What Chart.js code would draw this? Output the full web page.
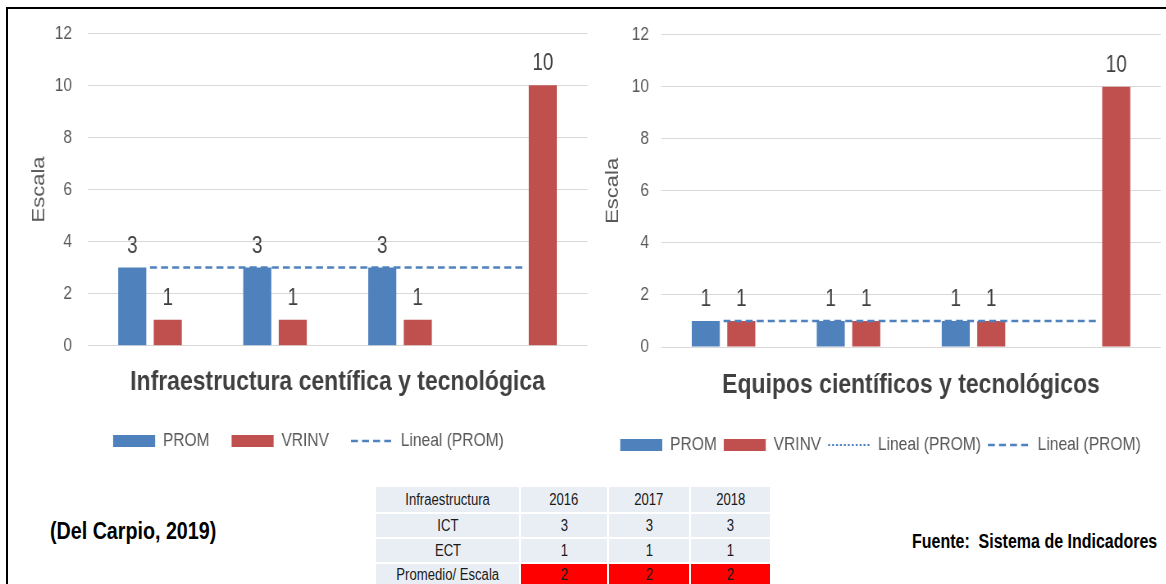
<!DOCTYPE html>
<html><head><meta charset="utf-8">
<script src="https://cdn.jsdelivr.net/npm/chart.js@4.4.0/dist/chart.umd.min.js"></script>
<style>
html,body{margin:0;padding:0;background:#fff;width:1166px;height:584px;overflow:hidden;}
body{position:relative;font-family:'Liberation Sans',Arial,sans-serif;}
#frame{position:absolute;left:6px;top:7px;width:1200px;height:600px;border-top:2px solid #000;border-left:2px solid #000;}
.wrap{position:absolute;top:0;height:470px;transform:scaleX(0.82);transform-origin:0 0;}
#w1{left:0;width:726px;}
#w2{left:595px;width:696px;}
#tbl{position:absolute;left:374px;top:485px;border-collapse:collapse;color:#1a1a1a;font-size:16px;}
#tbl td{background:#E9EDF4;border:2px solid #fff;text-align:center;padding:0;line-height:20px;white-space:nowrap;}
#tbl td.red{background:#FF0000;}
#tbl td span{display:inline-block;transform:scaleX(0.82);transform-origin:50% 50%;}
.narrow{position:absolute;white-space:nowrap;transform:scaleX(0.82);transform-origin:0 0;font-weight:bold;color:#000;}
#cite{left:50px;top:517px;font-size:24px;}
#src{left:912px;top:530px;font-size:19.5px;}
</style></head>
<body>
<div id="frame"></div>
<div id="w1" class="wrap"><canvas id="c1"></canvas></div>
<div id="w2" class="wrap"><canvas id="c2"></canvas></div>
<table id="tbl"></table>
<div id="cite" class="narrow">(Del Carpio, 2019)</div>
<div id="src" class="narrow">Fuente:&nbsp; Sistema de Indicadores</div>
<script>
// ---- data ----
const categories = ['2016', '2017', '2018', 'VRINV'];
const promInfra = [3, 3, 3, null];
const vrinvInfra = [1, 1, 1, 10];
const trendInfra = [3, 3, 3, 3];
const promEquip = [1, 1, 1, null];
const vrinvEquip = [1, 1, 1, 10];
const trendEquip = [1, 1, 1, 1];
const trendEquipDotted = [null, null, null, null];
const yMin = 0, yMax = 12, yStep = 2;
const tableHeader = ['Infraestructura', '2016', '2017', '2018'];
const tableRowNames = ['ICT', 'ECT', 'Promedio/ Escala'];
const tableICT = [3, 3, 3];
const tableECT = [1, 1, 1];
const tablePromedio = [2, 2, 2];

// ---- styles ----
const FONT = "'Liberation Sans',Arial,sans-serif";
const BLUE = '#4F81BD', RED = '#C0504D';

const valueLabels = {
  id: 'valueLabels',
  afterDatasetsDraw(chart) {
    const ctx = chart.ctx;
    ctx.save();
    ctx.font = '23px ' + FONT;
    ctx.fillStyle = '#404040';
    ctx.textAlign = 'center';
    ctx.textBaseline = 'alphabetic';
    chart.data.datasets.forEach((ds, i) => {
      if (ds.type !== 'bar') return;
      const meta = chart.getDatasetMeta(i);
      meta.data.forEach((el, j) => {
        const v = ds.data[j];
        if (v === null || v === undefined) return;
        ctx.fillText(String(v), el.x, el.y - 15);
      });
    });
    ctx.restore();
  }
};

function genLabels(chart) {
  const items = Chart.defaults.plugins.legend.labels.generateLabels(chart);
  items.forEach(it => {
    const ds = chart.data.datasets[it.datasetIndex];
    if (ds.type === 'line') {
      it.pointStyle = 'line'; it.lineWidth = ds.borderWidth; it.strokeStyle = ds.borderColor; it.lineDash = ds.borderDash;
    } else {
      it.pointStyle = 'rect'; it.lineWidth = 0; it.fillStyle = ds.backgroundColor;
    }
  });
  return items.sort((a, b) => a.datasetIndex - b.datasetIndex);
}

function makeChart(id, datasets, o) {
  const H = 470;
  const legendTop = H - o.padBottom - 29 - o.legendPad;
  const xHeight = legendTop - o.plotBottom;
  const titlePadBottom = legendTop - o.titleCenter - 16.8;
  return new Chart(document.getElementById(id), {
    type: 'bar',
    data: { labels: categories, datasets },
    plugins: [valueLabels],
    options: {
      responsive: true, maintainAspectRatio: false, animation: false, devicePixelRatio: 1,
      layout: { padding: { left: o.padLeft, right: o.padRight, top: o.padTop, bottom: o.padBottom } },
      scales: {
        x: {
          grid: { display: false }, border: { display: false },
          ticks: { display: false },
          title: { display: true, text: o.title, color: '#404040', font: { family: FONT, size: 28, weight: 'bold' }, padding: { top: 0, bottom: titlePadBottom } },
          afterFit(s) { s.height = xHeight; }
        },
        y: {
          min: yMin, max: yMax,
          grid: { color: '#D9D9D9', lineWidth: 1, drawTicks: false },
          border: { display: false },
          ticks: { stepSize: yStep, color: '#595959', padding: o.tickPad, font: { family: FONT, size: 19 } },
          title: { display: true, text: 'Escala', color: '#595959', font: { family: FONT, size: 22 }, padding: { top: o.yTitlePad, bottom: 0 } },
          afterFit(s) { s.width = o.yWidth; }
        }
      },
      plugins: {
        tooltip: { enabled: false },
        legend: {
          position: 'bottom', align: 'center',
          labels: { usePointStyle: true, pointStyleWidth: 51.2, boxHeight: 12, padding: o.legendPad, color: '#595959', font: { family: FONT, size: 19 }, generateLabels: genLabels }
        }
      }
    }
  });
}

const barCommon = { barPercentage: 0.79, categoryPercentage: 0.568, borderWidth: 0 };

makeChart('c1', [
  Object.assign({ type: 'bar', label: 'PROM', data: promInfra, backgroundColor: BLUE, order: 1 }, barCommon),
  Object.assign({ type: 'bar', label: 'VRINV', data: vrinvInfra, backgroundColor: RED, order: 1 }, barCommon),
  { type: 'line', label: 'Lineal (PROM)', data: trendInfra, borderColor: BLUE, backgroundColor: BLUE, borderWidth: 2.5, borderDash: [8.5, 5], pointRadius: 0, fill: false, order: 0 }
], { padLeft: 35.8, padRight: 9.5, padTop: 33.3, padBottom: 9.5, yWidth: 70.9, tickPad: 18.9, yTitlePad: -1.4, plotBottom: 345.7, titleCenter: 382, legendPad: 26.8, title: 'Infraestructura centífica y tecnológica' });

makeChart('c2', [
  Object.assign({ type: 'bar', label: 'PROM', data: promEquip, backgroundColor: BLUE, order: 1 }, barCommon),
  Object.assign({ type: 'bar', label: 'VRINV', data: vrinvEquip, backgroundColor: RED, order: 1 }, barCommon),
  { type: 'line', label: 'Lineal (PROM)', data: trendEquipDotted, borderColor: BLUE, backgroundColor: BLUE, borderWidth: 2, borderDash: [2.4, 2.4], pointRadius: 0, fill: false, order: 0 },
  { type: 'line', label: 'Lineal (PROM)', data: trendEquip, borderColor: BLUE, backgroundColor: BLUE, borderWidth: 2.5, borderDash: [8.5, 5], pointRadius: 0, fill: false, order: 0 }
], { padLeft: 6.1, padRight: 5.8, padTop: 34.6, padBottom: 5.5, yWidth: 74.4, tickPad: 14.6, yTitlePad: 2.7, plotBottom: 347, titleCenter: 385, legendPad: 8.5, title: 'Equipos científicos y tecnológicos' });

// ---- table ----
const tbl = document.getElementById('tbl');
const colW = [143, 86, 80, 79];
const rowH = [25, 23, 23, 22];
function addRow(cells, h, redData) {
  const tr = document.createElement('tr');
  cells.forEach((c, i) => {
    const td = document.createElement('td');
    const sp = document.createElement('span');
    sp.textContent = c;
    td.appendChild(sp);
    td.style.width = colW[i] + 'px';
    td.style.height = h + 'px';
    if (redData && i > 0) td.className = 'red';
    tr.appendChild(td);
  });
  tbl.appendChild(tr);
}
addRow(tableHeader, rowH[0], false);
addRow([tableRowNames[0]].concat(tableICT), rowH[1], false);
addRow([tableRowNames[1]].concat(tableECT), rowH[2], false);
addRow([tableRowNames[2]].concat(tablePromedio), rowH[3], true);
</script>
</body></html>
